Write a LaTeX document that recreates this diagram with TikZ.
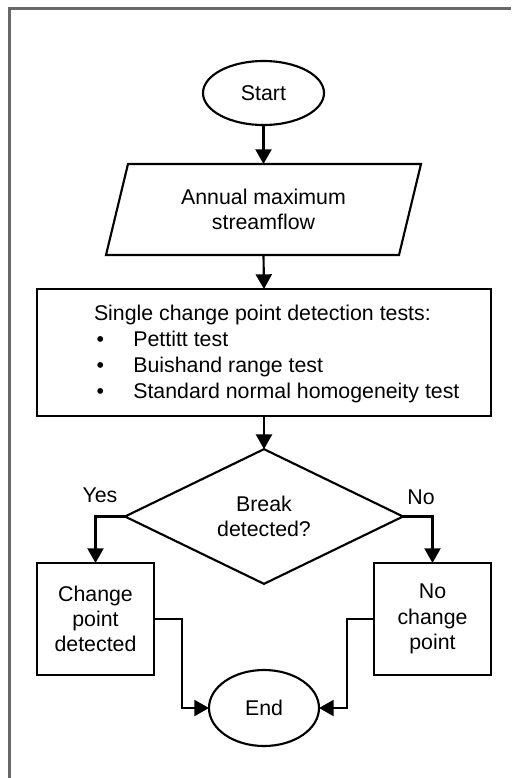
\documentclass[tikz,border=0pt]{standalone}
\usepackage{fontspec}
\setmainfont{Liberation Sans}
\usetikzlibrary{shapes.geometric,arrows.meta,calc}
\begin{document}
\begin{tikzpicture}[x=0.75pt,y=-0.75pt,
  font=\fontsize{16}{19}\selectfont,
  every node/.style={inner sep=0pt, outer sep=0pt},
  shp/.style={draw=black, line width=1.6pt},
  term/.style={shp, ellipse},
  boxnode/.style={shp, rectangle, align=center},
  decision/.style={shp, diamond, align=center},
  flow/.style={draw=black, line width=1.6pt, -{Triangle[length=11pt,width=12pt]}},
  framel/.style={draw={rgb,255:red,105;green,105;blue,105}, line width=1.6pt}
]
\useasboundingbox (0,0) rectangle (511,778);
\draw[framel] (9.5,778) -- (9.5,8.5) -- (511,8.5);

\node[term, minimum width=90.75pt, minimum height=48pt] (start) at (263.5,93) {Start};

\node[rectangle, minimum width=236.25pt, minimum height=68.25pt, align=center] (input) at (263.5,209.5) {Annual maximum\\streamflow};
\draw[shp] ($(input.north west)+(22,0)$) -- (input.north east) -- ($(input.south east)-(22,0)$) -- (input.south west) -- cycle;

\node[boxnode, minimum width=340.5pt, minimum height=95.25pt] (tests) at (264,352.5) {};
\node[anchor=west, align=left, font=\fontsize{16}{19.5}\selectfont] (teststext) at (94,353.5)
  {Single change point detection tests:\\
   \hspace*{2pt}\makebox[27.5pt][l]{\textbullet}Pettitt test\\
   \hspace*{2pt}\makebox[27.5pt][l]{\textbullet}Buishand range test\\
   \hspace*{2pt}\makebox[27.5pt][l]{\textbullet}Standard normal homogeneity test};

\node[decision, minimum width=208.5pt, minimum height=89.25pt] (dec) at (264,516.5) {Break\\detected?};

\node[boxnode, minimum width=87.75pt, minimum height=84pt] (yesbox) at (95.5,619) {Change\\point\\detected};
\node[boxnode, minimum width=87.75pt, minimum height=84pt] (nobox) at (432.5,619) {No\\change\\point};

\node[term, minimum width=82.5pt, minimum height=57pt] (end) at (264,708) {End};

\node (yes) at (100,495) {Yes};
\node (no) at (421,497) {No};

\draw[flow] (start) -- (input);
\draw[flow] (input.south) -- (tests.north);
\draw[flow] (tests.south) -- (dec.north);
\draw[flow] (dec.west) -| (yesbox.north);
\draw[flow] (dec.east) -| (nobox.north);
\draw[flow] (yesbox.east) -- ++(28,0) |- (end.west);
\draw[flow] (nobox.west) -- ++(-27,0) |- (end.east);
\end{tikzpicture}
\end{document}
